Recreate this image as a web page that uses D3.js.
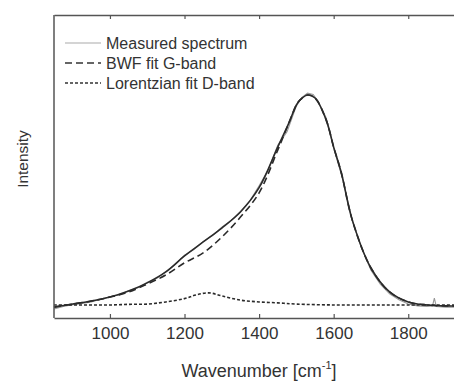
<!DOCTYPE html>
<html>
<head>
<meta charset="utf-8">
<script src="https://cdn.jsdelivr.net/npm/d3@7"></script>
<style>
  body { margin: 0; background: #fff; }
  text { font-family: "Liberation Sans", Arial, sans-serif; fill: #333; }
</style>
</head>
<body>
<div id="chart"></div>
<script>
const width = 454
const height = 381

// wavenumber grid (cm-1) and read values (arbitrary intensity units)
const fitWave = [850, 900, 950, 1000, 1050, 1100, 1150, 1200, 1250, 1300, 1350, 1400, 1450, 1480, 1500, 1510, 1530, 1550, 1580, 1600, 1620, 1650, 1700, 1750, 1800, 1850, 1900, 1940]
const fitSum = [36, 46, 56, 69, 89, 116, 152, 205, 251, 297, 350, 430, 564, 644, 703, 720, 736, 726, 653, 564, 482, 323, 165, 86, 53, 43, 40, 40]
const bwfFit = [36, 46, 56, 69, 86, 112, 142, 182, 215, 267, 333, 413, 554, 644, 703, 720, 736, 726, 653, 564, 482, 323, 165, 86, 53, 43, 40, 40]

const lorWave = [850, 900, 950, 1000, 1050, 1100, 1150, 1200, 1230, 1265, 1300, 1350, 1400, 1450, 1500, 1600, 1700, 1800, 1940]
const lorFit = [43, 43, 43, 43, 45, 46, 53, 64, 76, 83, 73, 59, 53, 50, 46, 43, 43, 43, 43]

const measWave = [850, 875, 900, 925, 950, 975, 1000, 1025, 1050, 1075, 1100, 1125, 1150, 1175, 1200, 1225, 1250, 1275, 1300, 1325, 1350, 1375, 1400, 1425, 1450, 1475, 1500, 1515, 1530, 1545, 1560, 1580, 1600, 1625, 1650, 1675, 1700, 1725, 1750, 1775, 1800, 1825, 1850, 1865, 1870, 1875, 1900, 1940]
const measured = [30, 38, 44, 48, 53, 62, 70, 76, 90, 100, 118, 130, 154, 176, 207, 226, 252, 272, 300, 322, 352, 386, 436, 490, 570, 615, 700, 728, 742, 738, 712, 660, 560, 455, 320, 230, 158, 112, 80, 60, 46, 40, 38, 40, 66, 38, 36, 36]

const xTicks = [1000, 1200, 1400, 1600, 1800]

const legendItems = [
  { label: "Measured spectrum", color: "#aaa", dash: null, w: 1.2 },
  { label: "BWF fit G-band", color: "#333", dash: "7,4", w: 1.6 },
  { label: "Lorentzian fit D-band", color: "#333", dash: "3,2", w: 1.6 }
]

const margin = { top: 15, left: 54, bottom: 318 }

const svg = d3.select("#chart").append("svg")
  .attr("width", width).attr("height", height)

const x = d3.scaleLinear().domain([850, 1940]).range([54, 54 + 1090 * 0.3729])
const y = d3.scaleLinear().domain([0, 1000]).range([margin.bottom, margin.top])

const line = (xs, ys, curve) => d3.line()
  .x((d, i) => x(xs[i]))
  .y(d => y(d))
  .curve(curve || d3.curveCatmullRom.alpha(0.5))(ys)

// curves
svg.append("path").attr("d", line(measWave, measured, d3.curveLinear))
  .attr("fill", "none").attr("stroke", "#999").attr("stroke-width", 1.1)

svg.append("path").attr("d", line(fitWave, fitSum))
  .attr("fill", "none").attr("stroke", "#2a2a2a").attr("stroke-width", 1.6)

svg.append("path").attr("d", line(fitWave, bwfFit))
  .attr("fill", "none").attr("stroke", "#2a2a2a").attr("stroke-width", 1.6)
  .attr("stroke-dasharray", "7,4")

svg.append("path").attr("d", line(lorWave, lorFit))
  .attr("fill", "none").attr("stroke", "#2a2a2a").attr("stroke-width", 1.6)
  .attr("stroke-dasharray", "3,2")

// axes: ticks pointing inward
const bottomAxis = d3.axisBottom(x).tickValues(xTicks).tickFormat(d3.format("d"))
  .tickSizeInner(-4).tickSizeOuter(0).tickPadding(9)
const topAxis = d3.axisTop(x).tickValues(xTicks).tickSizeInner(-4).tickSizeOuter(0).tickFormat("")

const gb = svg.append("g").attr("transform", `translate(0,${margin.bottom})`).call(bottomAxis)
const gt = svg.append("g").attr("transform", `translate(0,${margin.top})`).call(topAxis)

svg.selectAll(".domain").attr("stroke", "#555").attr("stroke-width", 1.5)
svg.selectAll(".tick line").attr("stroke", "#555").attr("stroke-width", 1.2)
gb.selectAll("text").attr("font-size", "17px").attr("fill", "#333")
  .attr("font-family", "Liberation Sans, Arial, sans-serif")

// left frame
svg.append("line")
  .attr("x1", x(850)).attr("x2", x(850))
  .attr("y1", margin.top).attr("y2", margin.bottom)
  .attr("stroke", "#555").attr("stroke-width", 1.5)

// axis titles
const xt = svg.append("text").attr("x", 259).attr("y", 377)
  .attr("text-anchor", "middle").attr("font-size", "18px")
xt.append("tspan").text("Wavenumber [cm")
xt.append("tspan").text("-1").attr("font-size", "11px").attr("dy", -8)
xt.append("tspan").text("]").attr("dy", 8)

svg.append("text")
  .attr("transform", "translate(28,159) rotate(-90)")
  .attr("text-anchor", "middle").attr("font-size", "15.5px")
  .text("Intensity")

// legend
const lg = svg.append("g")
legendItems.forEach((d, i) => {
  const yy = 43 + i * 20
  lg.append("line").attr("x1", 65).attr("x2", 101).attr("y1", yy).attr("y2", yy)
    .attr("stroke", d.color).attr("stroke-width", d.w)
    .attr("stroke-dasharray", d.dash)
  lg.append("text").attr("x", 106).attr("y", yy + 5.5)
    .attr("font-size", "16px").text(d.label)
})
</script>
</body>
</html>
